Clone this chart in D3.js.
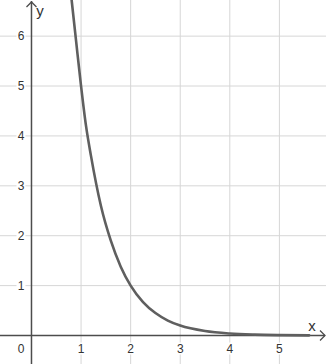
<!DOCTYPE html>
<html>
<head>
<meta charset="utf-8">
<script src="https://cdn.jsdelivr.net/npm/d3@7"></script>
<style>
  body { margin: 0; background: #fff; }
  svg { display: block; font-family: "Liberation Sans", Arial, sans-serif; }
</style>
</head>
<body>
<svg id="chart" width="326" height="364"></svg>
<script>
// values
const xTicks = [1, 2, 3, 4, 5];
const yTicks = [1, 2, 3, 4, 5, 6];
const curveX = [0.81, 0.9, 1, 1.1, 1.2, 1.4, 1.6, 1.8, 2, 2.25, 2.5, 2.75, 3, 3.5, 4, 4.5, 5, 5.6];
const curveY = [6.72, 5.9, 5, 4.2, 3.6, 2.6, 1.9, 1.38, 1, 0.67, 0.45, 0.3, 0.2, 0.09, 0.04, 0.018, 0.008, 0.003];

const width = 326;
const height = 364;
const svg = d3.select('#chart');

const x = d3.scaleLinear().domain([-0.635, 5.94]).range([0, width]);
const y = d3.scaleLinear().domain([-0.571, 6.724]).range([height, 0]);

// grid
svg.append('g')
    .selectAll('line')
    .data(xTicks)
    .enter()
    .append('line')
    .attr('x1', (d) => x(d))
    .attr('x2', (d) => x(d))
    .attr('y1', 0)
    .attr('y2', height)
    .attr('stroke', '#d6d6d6')
    .attr('stroke-width', 1);

svg.append('g')
    .selectAll('line')
    .data(yTicks)
    .enter()
    .append('line')
    .attr('x1', 0)
    .attr('x2', width)
    .attr('y1', (d) => y(d))
    .attr('y2', (d) => y(d))
    .attr('stroke', '#d6d6d6')
    .attr('stroke-width', 1);

// axes
const axisColor = '#4d4d4d';
svg.append('line')
    .attr('x1', 0).attr('x2', width - 1)
    .attr('y1', y(0)).attr('y2', y(0))
    .attr('stroke', axisColor).attr('stroke-width', 1.5);
svg.append('line')
    .attr('x1', x(0)).attr('x2', x(0))
    .attr('y1', height).attr('y2', 1)
    .attr('stroke', axisColor).attr('stroke-width', 1.5);

// arrow heads
svg.append('path')
    .attr('d', `M${width - 6},${y(0) - 5}L${width - 1},${y(0)}L${width - 6},${y(0) + 5}`)
    .attr('fill', 'none').attr('stroke', axisColor).attr('stroke-width', 1.3);
svg.append('path')
    .attr('d', `M${x(0) - 5},${7}L${x(0)},${2}L${x(0) + 5},${7}`)
    .attr('fill', 'none').attr('stroke', axisColor).attr('stroke-width', 1.3);

// tick labels with white backing
const labelColor = '#333';
const xl = svg.append('g')
    .selectAll('g')
    .data(xTicks)
    .enter()
    .append('g')
    .attr('transform', (d) => `translate(${x(d)},${y(0) + 17})`);
xl.append('rect')
    .attr('x', -4).attr('y', -10).attr('width', 8).attr('height', 12)
    .attr('fill', '#fff');
xl.append('text')
    .attr('text-anchor', 'middle')
    .attr('font-size', 12)
    .attr('fill', labelColor)
    .text((d) => d);

const yl = svg.append('g')
    .selectAll('g')
    .data(yTicks)
    .enter()
    .append('g')
    .attr('transform', (d) => `translate(${x(0) - 7},${y(d) + 4})`);
yl.append('rect')
    .attr('x', -8).attr('y', -10).attr('width', 9).attr('height', 12)
    .attr('fill', '#fff');
yl.append('text')
    .attr('text-anchor', 'end')
    .attr('font-size', 12)
    .attr('fill', labelColor)
    .text((d) => d);

svg.append('text')
    .attr('x', x(0) - 7).attr('y', y(0) + 17)
    .attr('text-anchor', 'end')
    .attr('font-size', 12)
    .attr('fill', labelColor)
    .text('0');

// axis names
svg.append('text')
    .attr('x', 312).attr('y', y(0) - 5)
    .attr('text-anchor', 'middle')
    .attr('font-size', 15)
    .attr('fill', labelColor)
    .text('x');
svg.append('text')
    .attr('x', 40).attr('y', 16)
    .attr('text-anchor', 'middle')
    .attr('font-size', 15)
    .attr('fill', labelColor)
    .text('y');

// curve
const points = curveX.map((v, i) => [v, curveY[i]]);
const line = d3.line()
    .x((d) => x(d[0]))
    .y((d) => y(d[1]))
    .curve(d3.curveMonotoneX);

svg.append('path')
    .datum(points)
    .attr('d', line)
    .attr('fill', 'none')
    .attr('stroke', '#5f5f5f')
    .attr('stroke-width', 2.6)
    .attr('stroke-linecap', 'round');
</script>
</body>
</html>
